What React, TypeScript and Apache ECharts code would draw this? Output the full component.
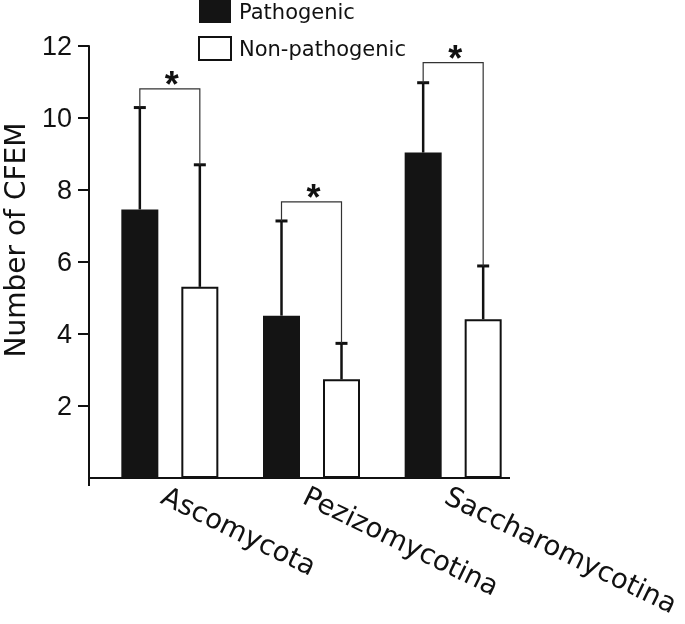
import React, { useEffect, useRef } from "react";
import * as echarts from "echarts";

const categories = ["Ascomycota", "Pezizomycotina", "Saccharomycotina"];
const seriesNames = ["Pathogenic", "Non-pathogenic"];
const pathogenicMean = [7.46, 4.51, 9.04];
const pathogenicSD = [2.83, 2.63, 1.94];
const nonPathogenicMean = [5.31, 2.74, 4.41];
const nonPathogenicSD = [3.39, 1.0, 1.48];
const bracketLevel = [10.81, 7.67, 11.54];
const significance = ["*", "*", "*"];
const yAxisTitle = "Number of CFEM";
const yMin = 0;
const yMax = 12;
const yInterval = 2;

const FONT = "DejaVu Sans, Verdana, sans-serif";
const NUM_FONT = "Liberation Sans, Arial, sans-serif";
const BAR_WIDTH = 37;
const BAR_GAP_PX = 23;
const HALF = (BAR_WIDTH + BAR_GAP_PX) / 2;
const GRID_LEFT = 99;
const GRID_TOP = 46;
const GRID_HEIGHT = 432;
const AXIS_Y = GRID_TOP + GRID_HEIGHT;

function errorRender(offset: number) {
  return (params: any, api: any) => {
    const c = api.value(0);
    const top = api.coord([c, api.value(1)]);
    const up = api.coord([c, api.value(2)]);
    const x = top[0] + offset;
    return {
      type: "group",
      children: [
        { type: "line", shape: { x1: x, y1: top[1], x2: x, y2: up[1] }, style: { stroke: "#111", lineWidth: 2.5 } },
        { type: "line", shape: { x1: x - 6, y1: up[1], x2: x + 6, y2: up[1] }, style: { stroke: "#111", lineWidth: 3 } },
      ],
    };
  };
}

export default function App() {
  const ref = useRef<HTMLDivElement>(null);
  useEffect(() => {
    if (!ref.current) return;
    const chart = echarts.init(ref.current, null, { renderer: "svg" });
    const pathErr = categories.map((_, i) => [i, pathogenicMean[i], pathogenicMean[i] + pathogenicSD[i]]);
    const nonErr = categories.map((_, i) => [i, nonPathogenicMean[i], nonPathogenicMean[i] + nonPathogenicSD[i]]);
    const brackets = categories.map((_, i) => [
      i,
      pathogenicMean[i] + pathogenicSD[i],
      nonPathogenicMean[i] + nonPathogenicSD[i],
      bracketLevel[i],
    ]);
    chart.setOption({
      animation: false,
      textStyle: { fontFamily: FONT },
      grid: {
        left: GRID_LEFT,
        top: GRID_TOP,
        height: GRID_HEIGHT,
        width: 425,
        containLabel: false,
        outerBoundsMode: "none",
      },
      legend: {
        orient: "vertical",
        left: 198,
        top: 0,
        padding: 0,
        itemWidth: 32,
        itemHeight: 23,
        itemGap: 13,
        icon: "rect",
        data: seriesNames,
        textStyle: { fontSize: 21, color: "#111", fontFamily: FONT, padding: [0, 0, 0, 3] },
      },
      xAxis: {
        type: "category",
        data: categories,
        axisLine: { show: false },
        axisTick: { show: false },
        axisLabel: {
          rotate: -26,
          fontSize: 27.5,
          color: "#111",
          margin: 3,
          verticalAlign: "top",
          fontFamily: FONT,
        },
      },
      yAxis: {
        type: "value",
        min: yMin,
        max: yMax,
        interval: yInterval,
        offset: 10,
        splitLine: { show: false },
        axisLine: { show: true, lineStyle: { color: "#111", width: 2 } },
        axisTick: { show: true, length: 11, lineStyle: { color: "#111", width: 2 } },
        axisLabel: { fontSize: 27, color: "#111", margin: 17, showMinLabel: false, fontFamily: NUM_FONT },
      },
      graphic: [
        { type: "line", shape: { x1: 89, y1: AXIS_Y, x2: 510, y2: AXIS_Y }, style: { stroke: "#111", lineWidth: 2 } },
        { type: "line", shape: { x1: 89, y1: AXIS_Y, x2: 89, y2: AXIS_Y + 8 }, style: { stroke: "#111", lineWidth: 2 } },
        {
          type: "text",
          x: 15,
          y: 240,
          rotation: Math.PI / 2,
          style: {
            text: yAxisTitle,
            fontSize: 28,
            fontFamily: FONT,
            fill: "#111",
            align: "center",
            verticalAlign: "middle",
          },
        },
      ],
      series: [
        {
          name: seriesNames[0],
          type: "bar",
          barWidth: BAR_WIDTH,
          barGap: `${(BAR_GAP_PX / BAR_WIDTH) * 100}%`,
          data: pathogenicMean,
          itemStyle: { color: "#141414" },
        },
        {
          name: seriesNames[1],
          type: "bar",
          barWidth: BAR_WIDTH,
          data: nonPathogenicMean,
          itemStyle: { color: "#ffffff", borderColor: "#111", borderWidth: 2 },
        },
        {
          type: "custom",
          z: 5,
          renderItem: errorRender(-HALF),
          data: pathErr,
          encode: { x: 0, y: [1, 2] },
        },
        {
          type: "custom",
          z: 5,
          renderItem: errorRender(HALF),
          data: nonErr,
          encode: { x: 0, y: [1, 2] },
        },
        {
          type: "custom",
          z: 5,
          data: brackets,
          encode: { x: 0, y: [1, 2, 3] },
          renderItem: (params: any, api: any) => {
            const c = api.value(0);
            const p = api.coord([c, api.value(1)]);
            const n = api.coord([c, api.value(2)]);
            const b = api.coord([c, api.value(3)]);
            const xp = p[0] - HALF;
            const xn = n[0] + HALF;
            return {
              type: "group",
              children: [
                {
                  type: "polyline",
                  shape: { points: [[xp, p[1]], [xp, b[1]], [xn, b[1]], [xn, n[1]]] },
                  style: { stroke: "#333", lineWidth: 1.2, fill: "none" },
                },
                {
                  type: "text",
                  x: (xp + xn) / 2 + 2,
                  y: b[1] - 4,
                  style: {
                    text: significance[params.dataIndex],
                    fontSize: 36,
                    fontWeight: "bold",
                    fontFamily: NUM_FONT,
                    fill: "#111",
                    align: "center",
                    verticalAlign: "middle",
                  },
                },
              ],
            };
          },
        },
      ],
    });
    return () => chart.dispose();
  }, []);
  return <div ref={ref} style={{ position: "fixed", left: 0, top: 0, width: 685, height: 624 }} />;
}
